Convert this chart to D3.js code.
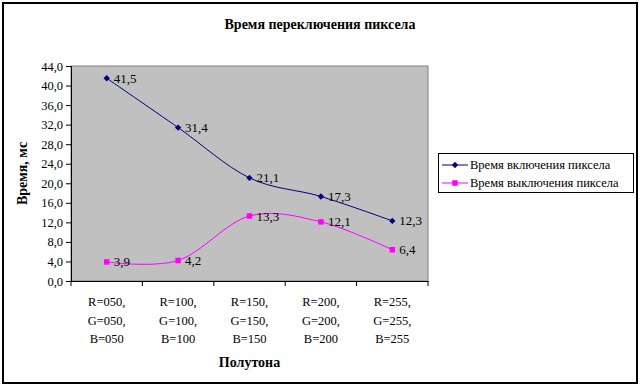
<!DOCTYPE html>
<html><head><meta charset="utf-8">
<script src="https://cdn.jsdelivr.net/npm/d3@7/dist/d3.min.js"></script>
<style>
body{margin:0;background:#fff;}
</style></head>
<body><svg id="c" width="642" height="386"></svg>
<script>
const categories = [["R=050,","G=050,","B=050"],["R=100,","G=100,","B=100"],["R=150,","G=150,","B=150"],["R=200,","G=200,","B=200"],["R=255,","G=255,","B=255"]];
const seriesOn = [41.5, 31.4, 21.1, 17.3, 12.3];
const seriesOff = [3.9, 4.2, 13.3, 12.1, 6.4];
const seriesNames = ["Время включения пиксела", "Время выключения пиксела"];
const yTicks = [0,4,8,12,16,20,24,28,32,36,40,44];
const title = "Время переключения пиксела";
const yTitle = "Время, мс";
const xTitle = "Полутона";

const FONT = "'Liberation Serif', 'Times New Roman', Tinos, FreeSerif";
const svg = d3.select("#c").attr("font-family", FONT);
const fmt = v => v.toFixed(1).replace(".", ",");
const txt = (sel) => sel.attr("font-family", FONT).attr("fill", "#000");

svg.append("rect").attr("x",3).attr("y",3).attr("width",634).attr("height",380)
  .attr("fill","#fff").attr("stroke","#000").attr("stroke-width",2);

const L = 71, R = 428, T = 66, B = 281;
const x = d3.scaleBand().domain(d3.range(categories.length)).range([L, R]);
const y = d3.scaleLinear().domain([0, 44]).range([B, T]);
const cx = i => x(i) + x.bandwidth()/2;

svg.append("rect").attr("x",L).attr("y",T).attr("width",R-L).attr("height",B-T)
  .attr("fill","#c0c0c0").attr("stroke","#808080").attr("stroke-width",1);

// Y axis
const ya = svg.append("g").attr("transform",`translate(${L},0)`)
  .call(d3.axisLeft(y).tickValues(yTicks).tickFormat(fmt).tickSizeOuter(0).tickSize(5).tickPadding(3));
ya.attr("font-family", FONT).attr("font-size", 12);
ya.select(".domain").attr("stroke","#000");
ya.selectAll("line").attr("stroke","#000");
txt(ya.selectAll("text")).attr("font-size", 12.5);

// X axis
const xa = svg.append("g").attr("transform",`translate(0,${B})`)
  .call(d3.axisBottom(x).tickValues([]).tickSizeOuter(0));
xa.select(".domain").attr("stroke","#000");
const bounds = d3.range(categories.length+1).map(i => i < categories.length ? x(i) : R);
xa.selectAll(".tk").data(bounds).enter().append("line")
  .attr("x1",d=>d).attr("x2",d=>d).attr("y1",0).attr("y2",5).attr("stroke","#000");

categories.forEach((lines,i)=>{
  lines.forEach((s,j)=>{
    txt(svg.append("text")).attr("x",cx(i)).attr("y",306+j*18.5).attr("text-anchor","middle")
      .attr("font-size",12.5).text(s);
  });
});

// Titles
txt(svg.append("text")).attr("x",320).attr("y",29).attr("text-anchor","middle")
  .attr("font-size",14).attr("font-weight","bold").text(title);
txt(svg.append("text")).attr("x",(L+R)/2).attr("y",367).attr("text-anchor","middle")
  .attr("font-size",14).attr("font-weight","bold").text(xTitle);
txt(svg.append("text")).attr("transform",`translate(27,${(T+B)/2}) rotate(-90)`).attr("text-anchor","middle")
  .attr("font-size",14).attr("font-weight","bold").text(yTitle);

const line = d3.line().x((d,i)=>cx(i)).y(d=>y(d)).curve(d3.curveCardinal.tension(0));
const colors = ["#000080","#ff00ff"];
const diamond = d3.symbol().type(d3.symbolDiamond2).size(26);
const square = d3.symbol().type(d3.symbolSquare).size(30);

[seriesOn, seriesOff].forEach((s,k)=>{
  svg.append("path").attr("d",line(s)).attr("fill","none").attr("stroke",colors[k]).attr("stroke-width",1);
  s.forEach((v,i)=>{
    svg.append("path").attr("d", k===0 ? diamond() : square())
      .attr("transform",`translate(${cx(i)},${y(v)})`).attr("fill",colors[k]);
    txt(svg.append("text")).attr("x",cx(i)+7).attr("y",y(v)+4.5)
      .attr("font-size",13).text(fmt(v));
  });
});

// Legend
svg.append("rect").attr("x",438.5).attr("y",153.5).attr("width",195).attr("height",39)
  .attr("fill","#fff").attr("stroke","#000").attr("stroke-width",1);
seriesNames.forEach((n,k)=>{
  const ly = 165 + k*18;
  svg.append("line").attr("x1",442).attr("x2",468).attr("y1",ly).attr("y2",ly).attr("stroke",colors[k]);
  svg.append("path").attr("d", k===0 ? diamond() : square()).attr("transform",`translate(455,${ly})`).attr("fill",colors[k]);
  txt(svg.append("text")).attr("x",470).attr("y",ly+4).attr("font-size",12.5).text(n);
});
</script></body></html>
